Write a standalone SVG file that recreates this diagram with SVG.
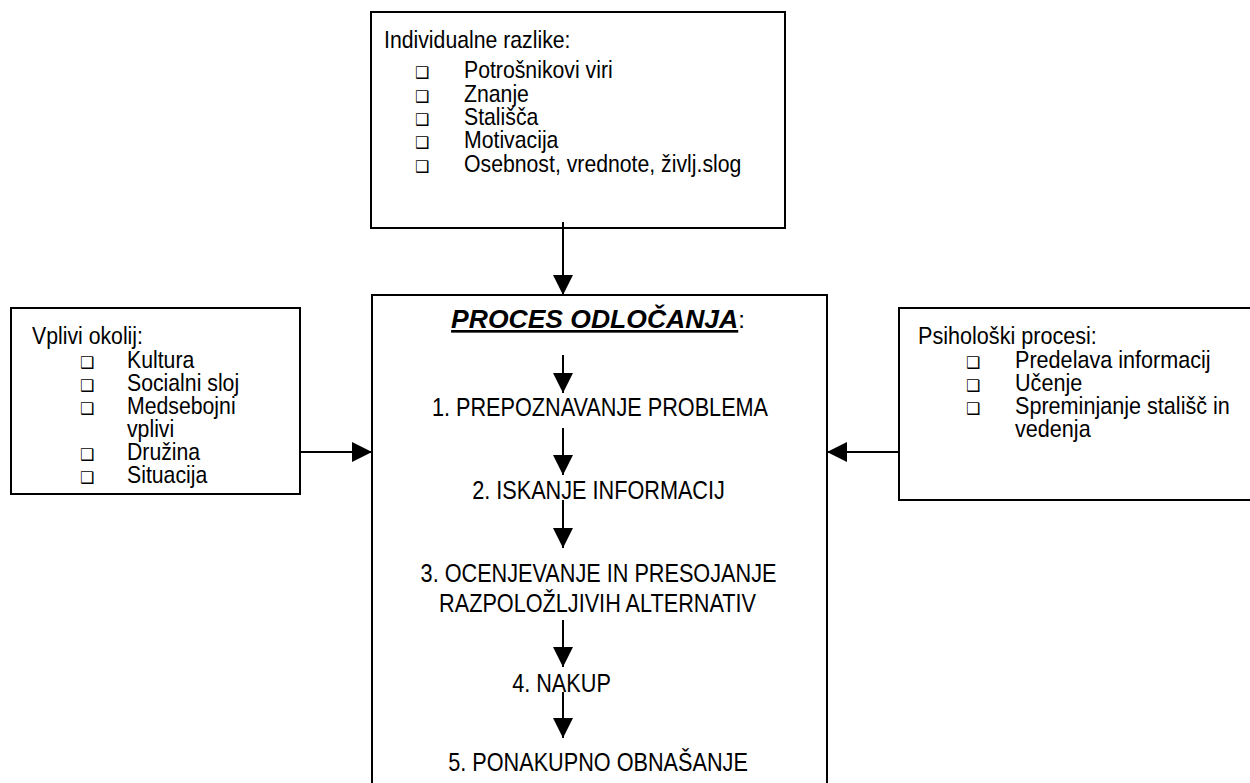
<svg xmlns="http://www.w3.org/2000/svg" width="1250" height="783" viewBox="0 0 1250 783">
<defs>
<style>
.box{fill:#fff;stroke:#000;stroke-width:2}
.t{font-family:"Liberation Sans",Arial,sans-serif;font-size:24px;fill:#000}
.c{font-family:"Liberation Sans",Arial,sans-serif;font-size:25px;fill:#000;text-anchor:middle}
.h{font-family:"Liberation Sans",Arial,sans-serif;font-size:26.5px;fill:#000;text-anchor:middle}
.b{font-family:"DejaVu Sans",sans-serif;font-size:16px;fill:#000}
.ln{stroke:#000;stroke-width:2;fill:none}
</style>
<marker id="ah" viewBox="0 0 20 20" refX="20" refY="10" markerWidth="20" markerHeight="20" markerUnits="userSpaceOnUse" orient="auto">
<path d="M0,0 L20,10 L0,20 Z" fill="#000"/>
</marker>
</defs>
<rect width="1250" height="783" fill="#fff"/>
<g id="individualne">
<rect class="box" x="371" y="12" width="414" height="216"/>
<text class="t" transform="translate(384,48) scale(0.885,1)">Individualne razlike:</text>
<text class="b" x="415" y="78">❑</text><text class="t" transform="translate(464,78) scale(0.885,1)">Potrošnikovi viri</text>
<text class="b" x="415" y="102">❑</text><text class="t" transform="translate(464,102) scale(0.885,1)">Znanje</text>
<text class="b" x="415" y="125">❑</text><text class="t" transform="translate(464,125) scale(0.885,1)">Stališča</text>
<text class="b" x="415" y="148">❑</text><text class="t" transform="translate(464,148) scale(0.885,1)">Motivacija</text>
<text class="b" x="415" y="172">❑</text><text class="t" transform="translate(464,172) scale(0.885,1)">Osebnost, vrednote, življ.slog</text>
</g>
<g id="okolij">
<rect class="box" x="11" y="308" width="289" height="186"/>
<text class="t" transform="translate(32,344) scale(0.885,1)">Vplivi okolij:</text>
<text class="b" x="80" y="368">❑</text><text class="t" transform="translate(127,368) scale(0.885,1)">Kultura</text>
<text class="b" x="80" y="391">❑</text><text class="t" transform="translate(127,391) scale(0.885,1)">Socialni sloj</text>
<text class="b" x="80" y="414">❑</text><text class="t" transform="translate(127,414) scale(0.885,1)">Medsebojni</text>
<text class="t" transform="translate(127,437) scale(0.885,1)">vplivi</text>
<text class="b" x="80" y="460">❑</text><text class="t" transform="translate(127,460) scale(0.885,1)">Družina</text>
<text class="b" x="80" y="483">❑</text><text class="t" transform="translate(127,483) scale(0.885,1)">Situacija</text>
</g>
<g id="psiholoski">
<rect class="box" x="899" y="308" width="370" height="192"/>
<text class="t" transform="translate(918,344) scale(0.9,1)">Psihološki procesi:</text>
<text class="b" x="966" y="368">❑</text><text class="t" transform="translate(1015,368) scale(0.9,1)">Predelava informacij</text>
<text class="b" x="966" y="391">❑</text><text class="t" transform="translate(1015,391) scale(0.9,1)">Učenje</text>
<text class="b" x="966" y="414">❑</text><text class="t" transform="translate(1015,414) scale(0.9,1)">Spreminjanje stališč in</text>
<text class="t" transform="translate(1015,437) scale(0.9,1)">vedenja</text>
</g>
<g id="proces">
<rect class="box" x="372" y="295" width="455" height="500"/>
<text class="h" x="598" y="328"><tspan font-weight="bold" font-style="italic" text-decoration="underline">PROCES ODLOČANJA</tspan><tspan font-size="24px">:</tspan></text>
<text class="c" transform="translate(600,416) scale(0.867,1)">1. PREPOZNAVANJE PROBLEMA</text>
<text class="c" transform="translate(598.5,499) scale(0.867,1)">2. ISKANJE INFORMACIJ</text>
<text class="c" transform="translate(598.5,582) scale(0.867,1)">3. OCENJEVANJE IN PRESOJANJE</text>
<text class="c" transform="translate(597.5,612) scale(0.867,1)">RAZPOLOŽLJIVIH ALTERNATIV</text>
<text class="c" transform="translate(561.5,692) scale(0.867,1)">4. NAKUP</text>
<text class="c" transform="translate(598,771) scale(0.867,1)">5. PONAKUPNO OBNAŠANJE</text>
</g>
<g id="connectors">
<line class="ln" x1="563" y1="222" x2="563" y2="295" marker-end="url(#ah)"/>
<line class="ln" x1="300" y1="452" x2="372" y2="452" marker-end="url(#ah)"/>
<line class="ln" x1="899" y1="452" x2="827" y2="452" marker-end="url(#ah)"/>
<line class="ln" x1="563" y1="355" x2="563" y2="393" marker-end="url(#ah)"/>
<line class="ln" x1="563" y1="428" x2="563" y2="475" marker-end="url(#ah)"/>
<line class="ln" x1="563" y1="500" x2="563" y2="548" marker-end="url(#ah)"/>
<line class="ln" x1="563" y1="620" x2="563" y2="667" marker-end="url(#ah)"/>
<line class="ln" x1="563" y1="692" x2="563" y2="738" marker-end="url(#ah)"/>
</g>
</svg>
